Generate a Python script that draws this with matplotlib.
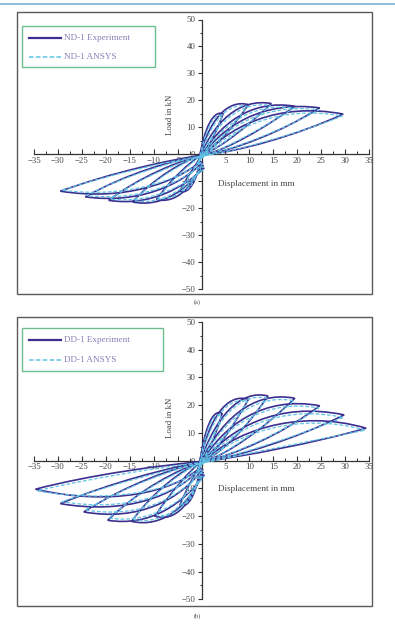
import matplotlib
matplotlib.use("Agg")
import matplotlib.pyplot as plt
from matplotlib.path import Path
from matplotlib.patches import PathPatch, Rectangle
from matplotlib.lines import Line2D
from matplotlib.ticker import MultipleLocator, FuncFormatter

plt.rcParams['font.family'] = ['Liberation Serif', 'DejaVu Serif']

# Each cycle: start, then cubic Bezier vertices
# (dome to +peak, back to origin, out to -peak, dome back to origin)
nd1_exp = [
    [(-0.5,-2),(0.6,10),(2.5,16.5),(4.5,15),(3.5,10),(1.8,3.5),(0.5,0.5),(-1.5,-4.5),(-3.2,-9),(-4.5,-13.6),(-2.9,-15.3),(-0.7,-10),(-0.5,-2)],
    [(-0.6,-2.5),(1.5,13),(5.5,20.5),(9.8,18.4),(6.5,10),(3,2.5),(0.5,0.5),(-2.5,-3),(-6.5,-9.5),(-9.4,-16.8),(-5.5,-18.5),(-1.8,-12.5),(0.2,-3)],
    [(-0.4,-1.5),(2.5,12),(8,21),(14.6,18.8),(10,11),(4.5,3),(0.8,0.3),(-4,-2.5),(-10,-9),(-14.4,-17.7),(-8,-20),(-2.5,-12.5),(0.4,-4)],
    [(-0.8,-3),(3.5,11.5),(10.5,20.5),(19.5,17.8),(13,9.5),(5.5,2),(1,0),(-5,-2.5),(-13,-8.5),(-19.4,-17.1),(-10.5,-19.5),(-3.5,-12),(0.6,-5)],
    [(-0.5,-2),(4.5,11),(13,20),(24.7,17.2),(16.5,8),(6.5,1.5),(1.2,0),(-6,-2),(-16,-7.5),(-24.3,-15.8),(-13,-18.5),(-4.5,-11.5),(0.3,-3)],
    [(-0.7,-2.5),(5.5,10.5),(16,19.5),(29.6,14.9),(20,7),(7.5,1),(1.5,0),(-7,-2),(-19,-7),(-29.5,-13.7),(-16,-17.5),(-5.5,-10.5),(0,-2.5)],
]
nd1_ansys = [
    [(-0.5,-2.5),(0.7,9),(2.5,15.5),(4.4,14.3),(3.5,10.3),(1.8,4),(0.5,0.2),(-1.5,-5),(-3.2,-9.5),(-4.3,-13.3),(-2.8,-14.5),(-0.8,-9.5),(-0.5,-2.5)],
    [(-0.6,-3),(1.6,12),(5.5,19.5),(9.6,17.7),(6.5,10.5),(3,3),(0.5,0.2),(-2.5,-3.5),(-6.5,-10),(-9.1,-16.3),(-5.5,-17.5),(-1.9,-12),(0.2,-3.5)],
    [(-0.4,-2),(2.6,11),(8,20),(14.4,18.1),(10,11.5),(4.5,3.5),(0.8,0),(-4,-3),(-10,-9.5),(-14.1,-17.2),(-8,-19),(-2.6,-12),(0.4,-4.5)],
    [(-0.8,-3.5),(3.6,10.5),(10.5,19.5),(19.3,17.1),(13,10),(5.5,2.5),(1,-0.3),(-5,-3),(-13,-9),(-19.1,-16.6),(-10.5,-18.5),(-3.6,-11.5),(0.6,-5.5)],
    [(-0.5,-2.5),(4.6,10),(13,19),(24.5,16.5),(16.5,8.5),(6.5,2),(1.2,-0.3),(-6,-2.5),(-16,-8),(-24,-15.3),(-13,-17.5),(-4.6,-11),(0.3,-3.5)],
    [(-0.7,-3),(5.6,9.5),(16,18.5),(29.4,14.2),(20,7.5),(7.5,1.5),(1.5,-0.3),(-7,-2.5),(-19,-7.5),(-29.2,-13.3),(-16,-16.5),(-5.6,-10),(0,-3)],
]
dd1_exp = [
    [(-0.5,-2),(0.6,11.5),(2.3,19),(4.3,17),(3.3,11),(1.7,4),(0.5,0.5),(-1.5,-5),(-3.2,-10.5),(-4.5,-15.9),(-2.9,-17.8),(-0.7,-11.5),(-0.5,-2)],
    [(-0.6,-2.5),(1.5,16),(5.5,24.5),(9.8,22.1),(6.5,12),(3,3),(0.5,0.5),(-2.5,-3.5),(-6.5,-11.5),(-9.7,-20),(-5.5,-22.5),(-1.8,-15),(0.2,-3)],
    [(-0.4,-1.5),(2.5,15),(8,26),(13.9,23.3),(9.5,12),(4,2.5),(0.8,0.3),(-4,-3),(-10,-11),(-14.6,-21.9),(-8,-24.5),(-2.5,-16),(0.4,-4)],
    [(-0.8,-3),(3.5,14),(10.5,25.5),(19.5,22.5),(13,11.5),(5.5,2.5),(1,0),(-5,-3),(-13,-10.5),(-19.6,-21.5),(-10.5,-24),(-3.5,-15),(0.6,-5)],
    [(-0.5,-2),(4.5,13),(13,23.5),(24.7,19.8),(16.5,9),(6.5,2),(1.2,0),(-6,-2.5),(-16,-9),(-24.6,-18.5),(-13,-22),(-4.5,-14),(0.3,-3)],
    [(-0.7,-2.5),(5.5,12),(16,21.5),(29.8,16.5),(20,8),(7.5,1.5),(1.5,0),(-7,-2.5),(-19,-8),(-29.5,-15.5),(-16,-19.5),(-5.5,-13),(0,-2.5)],
    [(-0.5,-2),(6,10.5),(20,19),(34.4,11.7),(24,6.5),(8.5,1.5),(1.8,0),(-8,-1.5),(-23,-5),(-34.7,-10.3),(-19,-16.5),(-6,-11.5),(-0.3,-2.5)],
]
dd1_ansys = [
    [(-0.5,-2.5),(0.7,10.5),(2.3,18),(4.2,16.3),(3.3,11.5),(1.7,4.5),(0.5,0.2),(-1.5,-5.5),(-3.2,-11),(-4.3,-15.4),(-2.8,-17),(-0.8,-11),(-0.5,-2.5)],
    [(-0.6,-3),(1.6,15),(5.5,23.5),(9.6,21.3),(6.5,12.5),(3,3.5),(0.5,0.2),(-2.5,-4),(-6.5,-12),(-9.4,-19.4),(-5.5,-21.5),(-1.9,-14.5),(0.2,-3.5)],
    [(-0.4,-2),(2.6,14),(8,25),(13.7,22.5),(9.5,12.5),(4,3),(0.8,0),(-4,-3.5),(-10,-11.5),(-14.3,-21.2),(-8,-23.5),(-2.6,-15.5),(0.4,-4.5)],
    [(-0.8,-3.5),(3.6,13),(10.5,24.5),(19.3,21.6),(13,12),(5.5,3),(1,-0.3),(-5,-3.5),(-13,-11),(-19.3,-20.7),(-10.5,-23),(-3.6,-14.5),(0.6,-5.5)],
    [(-0.5,-2.5),(4.6,12),(13,22.5),(24.5,19),(16.5,9.5),(6.5,2.5),(1.2,-0.3),(-6,-3),(-16,-9.5),(-24.3,-17.8),(-13,-21),(-4.6,-13.5),(0.3,-3.5)],
    [(-0.7,-3),(5.6,11),(16,20.5),(29.6,15.6),(20,8.8),(7.5,2),(1.5,-0.3),(-7,-3),(-19,-8.8),(-29.2,-14.8),(-16,-18.5),(-5.6,-12.5),(0,-3)],
    [(-0.5,-2.5),(6.1,9.5),(20,18),(34.2,11),(24,7.5),(8.5,2.2),(1.8,-0.3),(-8,-2.2),(-23,-6.2),(-34.3,-10.9),(-19,-15.5),(-6.1,-11),(-0.3,-3)],
]

panels = [
    dict(exp=nd1_exp, ansys=nd1_ansys, names=["ND-1 Experiment", "ND-1 ANSYS"], caption="(a)",
         ax_px=(34, 19.5, 369, 289), frame_px=(17, 12, 372, 294), leg_px=(22, 26, 155, 67),
         rows_py=(37.7, 57.3), cap_py=302, ylab_y=14.5, xlab_y=-11.0),
    dict(exp=dd1_exp, ansys=dd1_ansys, names=["DD-1 Experiment", "DD-1 ANSYS"], caption="(b)",
         ax_px=(34, 322, 369, 599.3), frame_px=(17, 317, 372, 606), leg_px=(22, 328, 163, 371),
         rows_py=(340.3, 360.3), cap_py=616, ylab_y=15.5, xlab_y=-10.1),
]

W, H = 395, 624
exp_color = '#3b2f8f'
ansys_color = '#5fc3e4'
text_color = '#444444'
label_color = '#8a7db8'

fig = plt.figure(figsize=(W / 100, H / 100), dpi=100)
fig.patch.set_facecolor('white')

def fx(px):
    return px / W

def fy(py):
    return 1 - py / H

# thin rule at the very top
fig.add_artist(Line2D([0, 1], [fy(4), fy(4)], transform=fig.transFigure, color='#7fb0d2', lw=1.2))

codes = [Path.MOVETO] + [Path.CURVE4] * 12

for p in panels:
    x0, y0, x1, y1 = p['frame_px']
    fig.add_artist(Rectangle((fx(x0), fy(y1)), fx(x1) - fx(x0), fy(y0) - fy(y1),
                             transform=fig.transFigure, fill=False, ec='#5a5a5a', lw=1.0))

    a0, b0, a1, b1 = p['ax_px']
    ax = fig.add_axes([fx(a0), fy(b1), fx(a1) - fx(a0), fy(b0) - fy(b1)])
    ax.set_xlim(-35, 35)
    ax.set_ylim(-50, 50)
    ax.patch.set_alpha(0)

    for loop in p['ansys']:
        ax.add_patch(PathPatch(Path(loop, codes), fill=False, ec=ansys_color, lw=0.9,
                               ls=(0, (3, 1.5)), zorder=3))
    for loop in p['exp']:
        ax.add_patch(PathPatch(Path(loop, codes), fill=False, ec=exp_color, lw=1.2, zorder=2))

    ax.spines['left'].set_position(('data', 0))
    ax.spines['bottom'].set_position(('data', 0))
    ax.spines['top'].set_visible(False)
    ax.spines['right'].set_visible(False)
    for s in ('left', 'bottom'):
        ax.spines[s].set_color('#333333')
        ax.spines[s].set_linewidth(0.9)
        ax.spines[s].set_zorder(1)

    ax.xaxis.set_major_locator(MultipleLocator(5))
    ax.xaxis.set_minor_locator(MultipleLocator(2.5))
    ax.yaxis.set_major_locator(MultipleLocator(10))
    ax.yaxis.set_minor_locator(MultipleLocator(5))
    ax.xaxis.set_major_formatter(FuncFormatter(lambda v, pos: '' if abs(v) < 1e-9 else f'{v:.0f}'.replace('-', '\u2212')))
    ax.yaxis.set_major_formatter(FuncFormatter(lambda v, pos: f'{v:.0f}'.replace('-', '\u2212')))
    ax.tick_params(axis='x', which='major', direction='in', length=3.5, width=0.8, pad=2,
                   labelsize=6.3, colors='#333333', labelcolor=text_color)
    ax.tick_params(axis='x', which='minor', direction='in', length=2, width=0.7, colors='#333333')
    ax.tick_params(axis='y', which='major', direction='out', length=3, width=0.8, pad=1.5,
                   labelsize=6.3, colors='#333333', labelcolor=text_color)
    ax.tick_params(axis='y', which='minor', direction='out', length=1.8, width=0.7, colors='#333333')

    ax.text(-6.5, p['ylab_y'], 'Load in kN', rotation=90, ha='center', va='center',
            fontsize=6.3, color=text_color)
    ax.text(3.4, p['xlab_y'], 'Displacement in mm', ha='left', va='center',
            fontsize=6.6, color=text_color)

    # legend box
    l0, m0, l1, m1 = p['leg_px']
    fig.add_artist(Rectangle((fx(l0), fy(m1)), fx(l1) - fx(l0), fy(m0) - fy(m1),
                             transform=fig.transFigure, fill=False, ec='#6fbf8e', lw=1.0))
    r1, r2 = p['rows_py']
    fig.add_artist(Line2D([fx(29), fx(61)], [fy(r1), fy(r1)], transform=fig.transFigure,
                          color=exp_color, lw=1.6))
    fig.add_artist(Line2D([fx(29), fx(61)], [fy(r2), fy(r2)], transform=fig.transFigure,
                          color=ansys_color, lw=1.1, ls=(0, (3, 1.5))))
    fig.text(fx(64), fy(r1), p['names'][0], ha='left', va='center', fontsize=6.6, color=label_color)
    fig.text(fx(64), fy(r2), p['names'][1], ha='left', va='center', fontsize=6.6, color=label_color)

    fig.text(fx(197), fy(p['cap_py']), p['caption'], ha='center', va='center',
             fontsize=4.5, color=text_color)

fig.savefig('out.png', dpi=100)
